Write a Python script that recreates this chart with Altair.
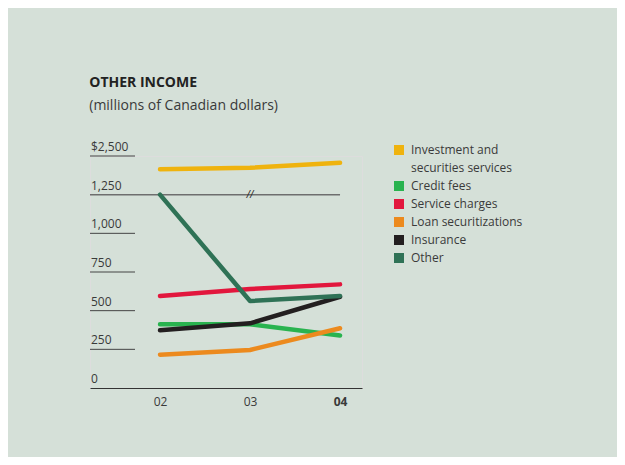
import altair as alt
import pandas as pd

years = [2002, 2003, 2004]
series_names = [
    "Investment and securities services",
    "Credit fees",
    "Service charges",
    "Loan securitizations",
    "Insurance",
    "Other",
]
investment = [2070, 2120, 2280]
credit_fees = [412, 412, 340]
service_charges = [595, 640, 670]
loan_securitizations = [215, 246, 386]
insurance = [373, 418, 590]
other = [1250, 562, 595]
series_colors = ["#efb30e", "#29b34f", "#e2173d", "#ec8a1e", "#231f20", "#2f7256"]

tick_values = [0, 250, 500, 750, 1000, 1250, 2500]
tick_labels = ["0", "250", "500", "750", "1,000", "1,250", "$2,500"]
break_value = 1250

all_values = [investment, credit_fees, service_charges, loan_securitizations, insurance, other]
rows = []
for name, vals in zip(series_names, all_values):
    for y, v in zip(years, vals):
        rows.append({"series": name, "year": y, "value": v})
df = pd.DataFrame(rows)

ticks_df = pd.DataFrame({"value": tick_values, "label": tick_labels})

# broken axis: 1,250 .. 2,500 compressed into the last band
squash = "datum.value > 1250 ? 1250 + (datum.value - 1250) / 5 : datum.value"

legend_domain = [series_names[0], "securities services"] + series_names[1:]
legend_range = [series_colors[0], "transparent"] + series_colors[1:]

FONT = "Open Sans"
TXT = "#3a3a3a"
X_MIN, X_MAX = 2001.222, 2004.244

x_scale = alt.Scale(domain=[X_MIN, X_MAX], nice=False, zero=False)
y_scale = alt.Scale(domain=[0, 1500], nice=False, zero=True)

lines = alt.Chart(df).transform_calculate(pos=squash).mark_line(
    strokeWidth=4.5, strokeCap="round", strokeJoin="round"
).encode(
    x=alt.X("year:Q", scale=x_scale, axis=alt.Axis(
        values=years, labelExpr="'0' + (datum.value - 2000)", ticks=False, grid=False,
        domainColor="#333333", domainWidth=1, labelFontSize=12, labelColor=TXT,
        labelFont=FONT, labelPadding=8, title=None,
        labelFontWeight={"condition": {"test": "datum.value == 2004", "value": "bold"}, "value": "normal"},
    )),
    y=alt.Y("pos:Q", scale=y_scale, axis=None),
    color=alt.Color("series:N", scale=alt.Scale(domain=legend_domain, range=legend_range),
                    legend=alt.Legend(
                        orient="none", legendX=303, legendY=-12, title=None,
                        symbolType="square", symbolSize=25, symbolStrokeWidth=5,
                        labelFontSize=12, labelFont=FONT, clipHeight=12,
                        labelColor=TXT, rowPadding=6, labelLimit=300, labelOffset=6,
                        labelExpr="datum.label == 'Investment and securities services' ? 'Investment and' : datum.label",
                    )),
)

short_ticks = alt.Chart(ticks_df).transform_filter(
    "datum.value != 0 && datum.value != 1250"
).transform_calculate(pos=squash).mark_rule(color="#444444", strokeWidth=1).encode(
    x=alt.value(0), x2=alt.value(45), y=alt.Y("pos:Q", scale=y_scale, axis=None)
)

break_line = alt.Chart(ticks_df).transform_filter(
    "datum.value == 1250"
).transform_calculate(x0=str(X_MIN), x1=str(years[-1])).mark_rule(
    color="#6e6e6e", strokeWidth=1.5
).encode(
    x=alt.X("x0:Q", scale=x_scale), x2="x1:Q", y=alt.Y("value:Q", scale=y_scale, axis=None)
)

break_mark = alt.Chart(ticks_df).transform_filter(
    "datum.value == 1250"
).transform_calculate(xm=str(years[1])).mark_text(
    text="//", fontSize=10, font=FONT, color="#222222", fontStyle="italic"
).encode(
    x=alt.X("xm:Q", scale=x_scale), y=alt.Y("value:Q", scale=y_scale, axis=None)
)

tick_text = alt.Chart(ticks_df).transform_calculate(pos=squash).mark_text(
    align="left", baseline="alphabetic", dx=1, dy=-5, fontSize=12, font=FONT, color=TXT
).encode(
    x=alt.value(0), y=alt.Y("pos:Q", scale=y_scale, axis=None), text="label:N"
)

chart = alt.layer(short_ticks, break_line, lines, break_mark, tick_text).properties(
    width=272, height=232,
    autosize=alt.AutoSizeParams(type="none"),
    padding={"left": 82, "top": 148, "right": 255, "bottom": 69},
    background="#d5e0d8",
    title=alt.TitleParams(
        text="OTHER INCOME", subtitle="(millions of Canadian dollars)", anchor="start",
        font=FONT, fontSize=14, fontWeight="bold", color="#222222",
        subtitleFont=FONT, subtitleFontSize=14, subtitleColor=TXT, subtitlePadding=9,
        offset=28,
    ),
).configure_view(stroke=None).configure(font=FONT)

chart.save("out.html", embed_options={"renderer": "svg", "actions": False})
